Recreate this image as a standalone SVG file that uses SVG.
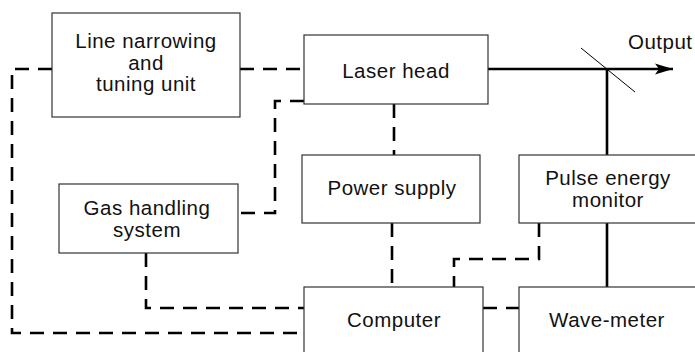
<svg xmlns="http://www.w3.org/2000/svg" width="695" height="352" viewBox="0 0 695 352">
<defs>
<style>
.box{fill:#fff;stroke:#333;stroke-width:1.2}
.lbl{font-family:"Liberation Sans",Arial,sans-serif;font-size:20.5px;letter-spacing:0.5px;fill:#111;text-anchor:middle}
.dash{fill:none;stroke:#000;stroke-width:2.6;stroke-dasharray:14 9}
.solid{fill:none;stroke:#000;stroke-width:2.6}
.thin{fill:none;stroke:#000;stroke-width:1}
</style>
<marker id="arr" markerUnits="userSpaceOnUse" markerWidth="20" markerHeight="12" refX="18" refY="6" orient="auto">
<path d="M0,0.5 L18,6 L0,11.5 L4,6 Z" fill="#000"/>
</marker>
</defs>
<rect width="695" height="352" fill="#fff"/>
<g id="connectors">
<path class="dash" d="M52,69 H12 V333 H304"/>
<path class="dash" d="M240,69 H304"/>
<path class="dash" d="M304,101 H275 V213 H238"/>
<path class="dash" d="M146,253 V308 H304"/>
<path class="dash" d="M394,104 V155"/>
<path class="dash" d="M392,223 V287"/>
<path class="dash" d="M539,223 V259 H454 V287"/>
<path class="dash" d="M483,308 H519"/>
<path class="solid" d="M488,69 H673" marker-end="url(#arr)"/>
<path class="solid" d="M607,69 V155"/>
<path class="solid" d="M607,223 V287"/>
<path class="thin" d="M581,48 L635,92"/>
</g>
<g id="line-narrowing">
<rect class="box" x="52" y="13" width="188" height="104"/>
<text class="lbl" x="146" y="48">Line narrowing</text>
<text class="lbl" x="146" y="69.5">and</text>
<text class="lbl" x="146" y="91">tuning unit</text>
</g>
<g id="laser-head">
<rect class="box" x="304" y="35" width="184" height="69"/>
<text class="lbl" x="396" y="78">Laser head</text>
</g>
<g id="gas-handling">
<rect class="box" x="59" y="184" width="179" height="69"/>
<text class="lbl" x="147" y="215">Gas handling</text>
<text class="lbl" x="147" y="236.5">system</text>
</g>
<g id="power-supply">
<rect class="box" x="302" y="155" width="178" height="68"/>
<text class="lbl" x="392" y="195">Power supply</text>
</g>
<g id="pulse-energy-monitor">
<rect class="box" x="519" y="155" width="190" height="68"/>
<text class="lbl" x="608" y="185">Pulse energy</text>
<text class="lbl" x="608" y="206.5">monitor</text>
</g>
<g id="computer">
<rect class="box" x="304" y="287" width="179" height="80"/>
<text class="lbl" x="394" y="327">Computer</text>
</g>
<g id="wave-meter">
<rect class="box" x="519" y="287" width="190" height="80"/>
<text class="lbl" x="607" y="327">Wave-meter</text>
</g>
<g id="output-label">
<text class="lbl" x="628" y="49" style="text-anchor:start">Output</text>
</g>
</svg>
